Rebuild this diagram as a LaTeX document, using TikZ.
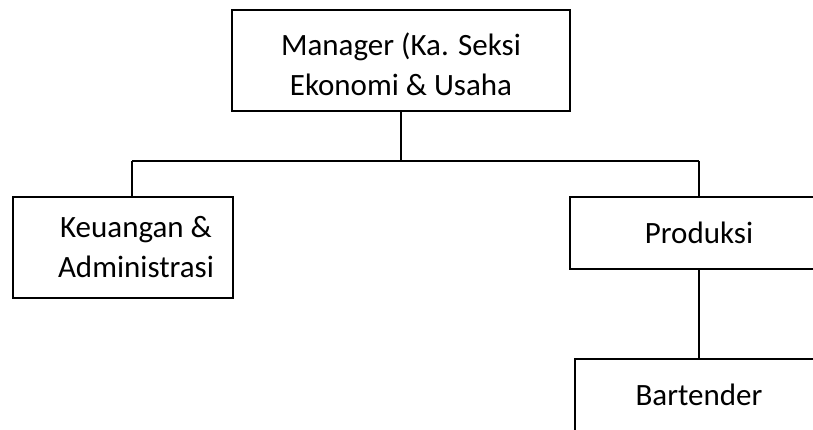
\documentclass[tikz,border=0pt]{standalone}
\usepackage{fontspec}
\setmainfont{Carlito}
\usetikzlibrary{positioning}

\tikzset{
 box/.style={draw=black,line width=1.5pt,rectangle,inner sep=0pt,align=center,
   font=\fontsize{31}{40}\selectfont},
 txt/.style={inner sep=0pt,align=center,font=\fontsize{31}{40}\selectfont},
 link/.style={draw=black,line width=1.5pt}
}

\begin{document}
\begin{tikzpicture}[x=1pt,y=-1pt]
 \useasboundingbox (0,0) rectangle (813,430);
 \clip (0,0) rectangle (813,430);
 % boxes
 \node[box,minimum width=338pt,minimum height=101pt] (mgr) at (401,60.5) {};
 \node[txt] (mgrtxt) at (401,64) {Manager (Ka. Seksi\\Ekonomi \& Usaha};
 \node[box,minimum width=220pt,minimum height=101pt] (keu) at (123,247.5) {};
 \node[txt] (keutxt) at (136,247.5) {Keuangan \&\\Administrasi};
 \node[box,minimum width=258pt,minimum height=72pt] (prod) at (699,233) {Produksi};
 \node[box,minimum width=248pt,minimum height=72pt] (bar) at (699,395) {Bartender};
 % connectors
 \coordinate (busL) at (132,161);
 \coordinate (busR) at (699,161);
 \draw[link] (mgr.south) -- (mgr.south |- busL);
 \draw[link] (busL) -- (busR);
 \draw[link] (busL) -- (busL |- keu.north);
 \draw[link] (busR) -- (prod.north);
 \draw[link] (prod.south) -- (bar.north);
\end{tikzpicture}
\end{document}
